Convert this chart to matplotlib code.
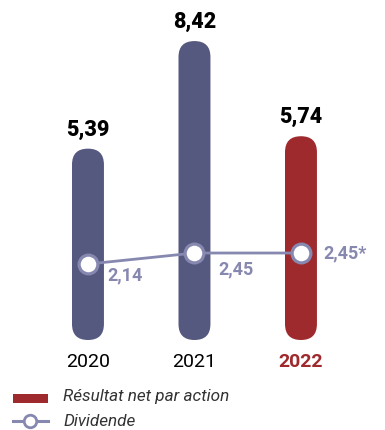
import matplotlib
matplotlib.use("Agg")
import matplotlib.pyplot as plt
from matplotlib.patches import FancyBboxPatch
from matplotlib.lines import Line2D

years = ["2020", "2021", "2022"]
eps = [5.39, 8.42, 5.74]
dividend = [2.14, 2.45, 2.45]
dividend_labels = ["2,14", "2,45", "2,45*"]
eps_labels = ["5,39", "8,42", "5,74"]

BLUE = "#55587f"
RED = "#9f2a2e"
LINE = "#8788b0"
FONT = ["Roboto", "DejaVu Sans"]

plt.rcParams["font.family"] = FONT

fig = plt.figure(figsize=(3.85, 4.3), dpi=100)
ax = fig.add_axes([0, 0, 1, 1])
ax.set_xlim(-0.826, 2.789)
ax.set_ylim(-2.535, 9.577)
ax.axis("off")

x = list(range(len(years)))
colors = [BLUE, BLUE, RED]
bar_w = 0.30

# pixel aspect: y-units per px divided by x-units per px
aspect = (ax.get_ylim()[1] - ax.get_ylim()[0]) / 430 / ((ax.get_xlim()[1] - ax.get_xlim()[0]) / 385)

bars = ax.bar(x, eps, width=bar_w, color=colors)
for b, c in zip(bars, colors):
    b.set_visible(False)
    p = FancyBboxPatch((b.get_x(), b.get_y()), b.get_width(), b.get_height(),
                       boxstyle=f"round,pad=0,rounding_size={bar_w / 2}",
                       mutation_aspect=aspect, facecolor=c, edgecolor="none", zorder=2)
    ax.add_patch(p)

for xi, v, lab in zip(x, eps, eps_labels):
    ax.text(xi, v + 0.22, lab, ha="center", va="bottom", fontsize=15.5,
            fontweight="heavy", color="black")

ax.plot(x, dividend, color=LINE, lw=2, marker="o", markersize=13.5,
        markerfacecolor="white", markeredgecolor=LINE, markeredgewidth=2.3, zorder=3)

div_offsets = [(0.18, -0.33), (0.22, -0.47), (0.21, 0.0)]
for xi, v, lab, (dx, dy) in zip(x, dividend, dividend_labels, div_offsets):
    ax.text(xi + dx, v + dy, lab, ha="left", va="center", fontsize=13,
            fontweight="bold", color=LINE)

for xi, yr, c in zip(x, years, colors):
    bold = c == RED
    ax.text(xi, -0.62, yr, ha="center", va="center", fontsize=14,
            fontweight="bold" if bold else "normal",
            color=RED if bold else "black")

# legend
fig.patches.append(plt.Rectangle((13 / 385, 1 - 403 / 430), 35 / 385, 9 / 430,
                                 transform=fig.transFigure, facecolor=RED, edgecolor="none"))
fig.lines.append(Line2D([13 / 385, 48 / 385], [1 - 421 / 430] * 2, transform=fig.transFigure,
                        color=LINE, lw=2.2))
fig.lines.append(Line2D([30 / 385], [1 - 421 / 430], transform=fig.transFigure,
                        color=LINE, lw=0, marker="o", markersize=9,
                        markerfacecolor="white", markeredgecolor=LINE, markeredgewidth=2))
fig.text(63 / 385, 1 - 397 / 430, "Résultat net par action", ha="left", va="center",
         fontsize=12.3, style="italic", color="#333333")
fig.text(63 / 385, 1 - 421 / 430, "Dividende", ha="left", va="center",
         fontsize=12.3, style="italic", color="#333333")

fig.savefig("out.png", dpi=100)
